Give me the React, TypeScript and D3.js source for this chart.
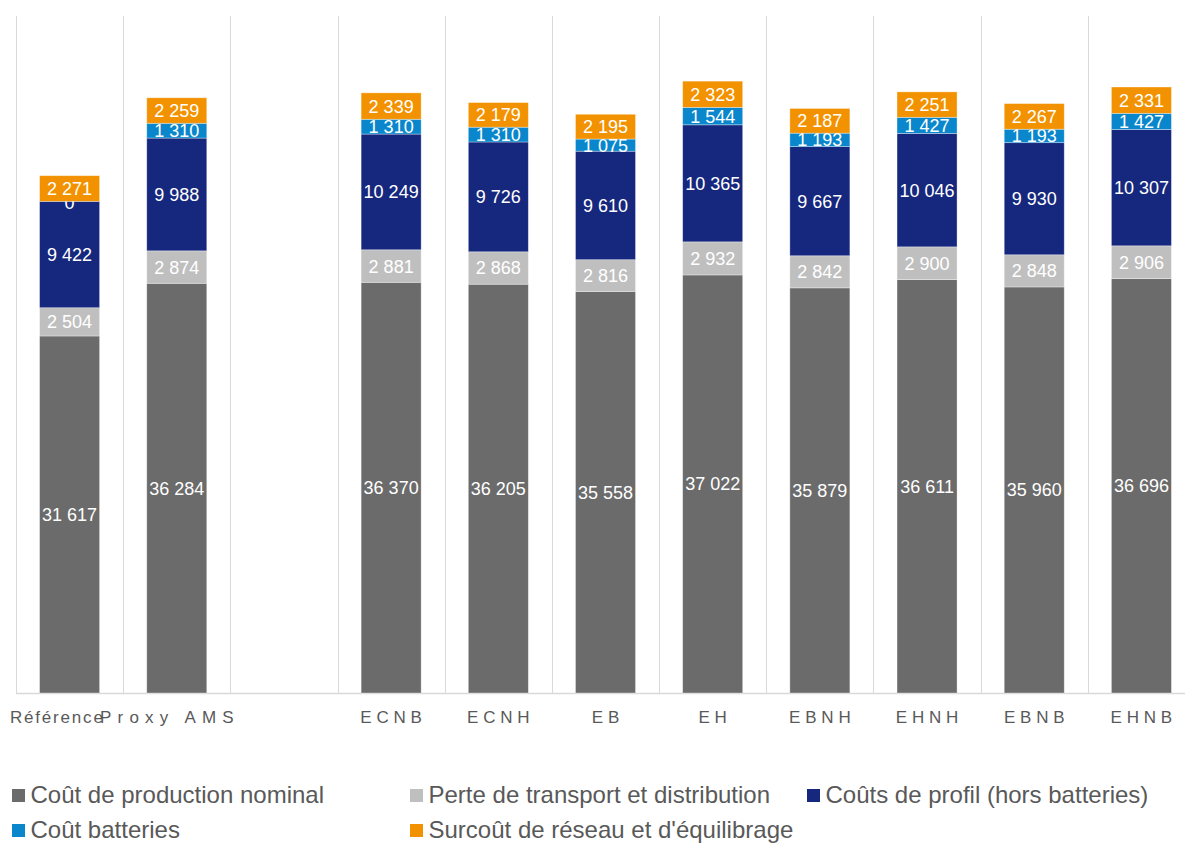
import React, { useEffect, useRef } from 'react'
import * as d3 from 'd3'

// scenarios (the blank slot is a gap in the original chart)
const categories = ['Référence', 'Proxy AMS', '', 'ECNB', 'ECNH', 'EB', 'EH', 'EBNH', 'EHNH', 'EBNB', 'EHNB']

const production = [31617, 36284, null, 36370, 36205, 35558, 37022, 35879, 36611, 35960, 36696]
const pertes = [2504, 2874, null, 2881, 2868, 2816, 2932, 2842, 2900, 2848, 2906]
const profil = [9422, 9988, null, 10249, 9726, 9610, 10365, 9667, 10046, 9930, 10307]
const batteries = [0, 1310, null, 1310, 1310, 1075, 1544, 1193, 1427, 1193, 1427]
const reseau = [2271, 2259, null, 2339, 2179, 2195, 2323, 2187, 2251, 2267, 2331]

const seriesNames = [
  'Coût de production nominal',
  'Perte de transport et distribution',
  'Coûts de profil (hors batteries)',
  'Coût batteries',
  "Surcoût de réseau et d'équilibrage",
]
const seriesValues = [production, pertes, profil, batteries, reseau]
const colors = ['#6b6b6b', '#bfbfbf', '#16287e', '#0a87cc', '#f39200']

const W = 1185
const H = 844
const FONT = "'Liberation Sans', Arial, sans-serif"

const fmt = (v: number) => d3.format(',')(v).replace(/,/g, ' ')

export default function App() {
  const ref = useRef<SVGSVGElement>(null)

  useEffect(() => {
    const svg = d3.select(ref.current)
    svg.selectAll('*').remove()

    const x = d3.scaleBand().domain(categories.map((c, i) => i + '')).range([16, 1195]).paddingInner(0.44).paddingOuter(0.22)
    const y = d3.scaleLinear().domain([0, 60000]).range([693, 15.5])
    const step = x.step()

    // vertical gridlines between categories
    const g = svg.append('g')
    categories.forEach((c, i) => {
      const gx = Math.round(x(i + '')! - x.paddingOuter() * step) + 0.5
      g.append('line').attr('x1', gx).attr('x2', gx).attr('y1', 16).attr('y2', 693).attr('stroke', '#d9d9d9').attr('stroke-width', 1)
    })
    g.append('line').attr('x1', 16).attr('x2', W).attr('y1', 693.5).attr('y2', 693.5).attr('stroke', '#d9d9d9').attr('stroke-width', 1.5)

    // stacked bars
    const bars = svg.append('g')
    categories.forEach((c, i) => {
      let base = 0
      seriesValues.forEach((vals, s) => {
        const v = vals[i]
        if (v == null) return
        const y0 = y(base)
        const y1 = y(base + v)
        const bx = x(i + '')!
        if (v > 0) {
          bars.append('rect').attr('x', bx).attr('y', y1).attr('width', x.bandwidth()).attr('height', y0 - y1)
            .attr('fill', colors[s]).attr('stroke', 'rgba(255,255,255,0.45)').attr('stroke-width', 0.75)
        }
        bars.append('text').attr('x', bx + x.bandwidth() / 2).attr('y', (y0 + y1) / 2 + 6.5 + (v === 0 ? 1 : 0))
          .attr('text-anchor', 'middle').attr('font-family', FONT).attr('font-size', 18).attr('fill', '#fff')
          .text(fmt(v))
        base += v
      })
    })

    // category labels
    const labels = svg.append('g')
    categories.forEach((c, i) => {
      if (!c) return
      const cx = x(i + '')! + x.bandwidth() / 2
      const t = labels.append('text').attr('y', 723).attr('font-family', FONT).attr('font-size', 17).attr('fill', '#595959').text(c)
      if (i === 0) {
        t.attr('x', 10).attr('text-anchor', 'start').attr('letter-spacing', 1.8)
      } else if (i === 1) {
        t.attr('x', 100).attr('text-anchor', 'start').attr('letter-spacing', 6.2)
      } else {
        t.attr('x', cx + 2.4).attr('text-anchor', 'middle').attr('letter-spacing', 4.8)
      }
    })

    // legend
    const legend = svg.append('g')
    const colX = [12, 410, 807]
    const rowY = [803, 838]
    seriesNames.forEach((name, s) => {
      const lx = colX[s % 3]
      const ly = rowY[Math.floor(s / 3)]
      legend.append('rect').attr('x', lx).attr('y', ly - 14).attr('width', 13).attr('height', 13).attr('fill', colors[s])
      legend.append('text').attr('x', lx + 18.5).attr('y', ly).attr('font-family', FONT).attr('font-size', 24).attr('fill', '#595959').text(name)
    })
  }, [])

  return (
    <svg ref={ref} width={W} height={H} style={{ position: 'absolute', left: 0, top: 0, background: '#fff' }} />
  )
}
